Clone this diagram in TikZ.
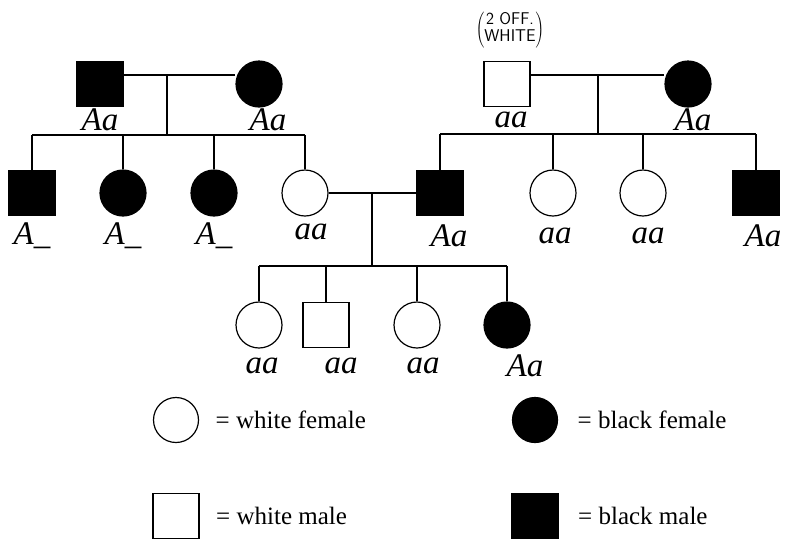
\documentclass[tikz,border=0pt]{standalone}
\usepackage{fontspec}
\setmainfont{Liberation Serif}
\usetikzlibrary{positioning}

\begin{document}
\begin{tikzpicture}[x=1pt, y=-1pt, line width=1.2pt,
		male/.style={rectangle, draw, minimum width=46pt, minimum height=45pt, inner sep=0pt},
		female/.style={circle, draw, minimum size=46pt, inner sep=0pt},
		blk/.style={fill=black},
		geno/.style={font=\fontsize{33}{33}\selectfont\itshape},
		key/.style={font=\fontsize{25}{25}\selectfont, inner sep=0pt}]
	\useasboundingbox (0,0) rectangle (794,542);
	% grandparents
	\node[male, blk] (gf1) at (100,84) {};
	\node[female, blk] (gm1) at (259,84) {};
	\node[male] (gf2) at (507,84) {};
	\node[female, blk] (gm2) at (688,84) {};
	\node[font=\sffamily\fontsize{17}{17}\selectfont, inner sep=0pt] (note) at (510,30)
		{$\left(\begin{tabular}{@{}c@{}}2 OFF.\\WHITE\end{tabular}\right)$};
	% parents and their sibs
	\node[male, blk] (s1) at (32,193) {};
	\node[female, blk] (c1) at (123,193) {};
	\node[female, blk] (c2) at (214,193) {};
	\node[female] (c3) at (305,193) {};
	\node[male, blk] (m2) at (440,193) {};
	\node[female] (c4) at (553,193) {};
	\node[female] (c5) at (643,193) {};
	\node[male, blk] (m3) at (756,193) {};
	% children
	\node[female] (g1) at (259,325) {};
	\node[male] (g2) at (326,325) {};
	\node[female] (g3) at (417,325) {};
	\node[female, blk] (g4) at (507,325) {};
	% lines
	\coordinate (mar1) at (167,75);
	\coordinate (mar2) at (598,75);
	\coordinate (mar3) at (372,193);
	\coordinate (sib1) at (0,135);
	\coordinate (sib2) at (0,134);
	\coordinate (sib3) at (0,266);
	\draw (gf1.east |- mar1) -- (gm1.west |- mar1);
	\draw (mar1) -- (mar1 |- sib1);
	\draw (s1.north |- sib1) -- (c3.north |- sib1);
	\foreach \n in {s1,c1,c2,c3}
		\draw (\n.north) -- (\n.north |- sib1);
	\draw (gf2.east |- mar2) -- (gm2.west |- mar2);
	\draw (mar2) -- (mar2 |- sib2);
	\draw (m2.north |- sib2) -- (m3.north |- sib2);
	\foreach \n in {m2,c4,c5,m3}
		\draw (\n.north) -- (\n.north |- sib2);
	\draw (c3.east) -- (m2.west);
	\draw (mar3) -- (mar3 |- sib3);
	\draw (g1.north |- sib3) -- (g4.north |- sib3);
	\foreach \n in {g1,g2,g3,g4}
		\draw (\n.north) -- (\n.north |- sib3);
	% genotypes
	\node[geno] (lgf1) at (100,120) {Aa};
	\node[geno] (lgm1) at (268,120) {Aa};
	\node[geno] (lgf2) at (511,120) {aa};
	\node[geno] (lgm2) at (693,120) {Aa};
	\node[geno] (ls1) at (32,236) {A\_};
	\node[geno] (lc1) at (123,236) {A\_};
	\node[geno] (lc2) at (214,236) {A\_};
	\node[geno] (lc3) at (311,232) {aa};
	\node[geno] (lm2) at (449,236) {Aa};
	\node[geno] (lc4) at (555,236) {aa};
	\node[geno] (lc5) at (648,236) {aa};
	\node[geno] (lm3) at (763,236) {Aa};
	\node[geno] (lg1) at (262,366) {aa};
	\node[geno] (lg2) at (341,366) {aa};
	\node[geno] (lg3) at (423,366) {aa};
	\node[geno] (lg4) at (525,366) {Aa};
	% key
	\node[female, minimum size=45pt] (kwf) at (176,420) {};
	\node[female, blk, minimum size=45pt] (kbf) at (535,420) {};
	\node[male] (kwm) at (176,516) {};
	\node[male, blk] (kbm) at (535,516) {};
	\node[key, right=16pt of kwf] (twf) {= white female};
	\node[key, right=19pt of kbf] (tbf) {= black female};
	\node[key, right=16pt of kwm] (twm) {= white male};
	\node[key, right=19pt of kbm] (tbm) {= black male};
\end{tikzpicture}
\end{document}
